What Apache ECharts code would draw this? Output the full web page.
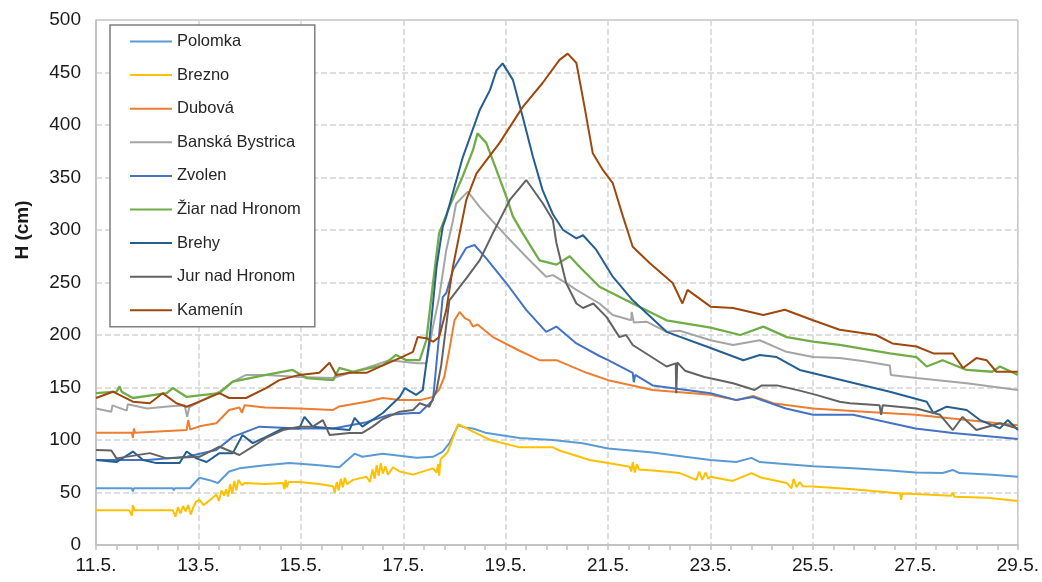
<!DOCTYPE html>
<html>
<head>
<meta charset="utf-8">
<script src="https://cdn.jsdelivr.net/npm/echarts@6/dist/echarts.min.js"></script>
<style>
html,body{margin:0;padding:0;background:#fff;}
#c{width:1042px;height:582px;}
</style>
</head>
<body>
<div id="c"></div>
<script>
// x = day of May, y = water level H (cm)
const xTicks = [11, 13, 15, 17, 19, 21, 23, 25, 27, 29];
const seriesNames = ['Polomka', 'Brezno', 'Dubová', 'Banská Bystrica', 'Zvolen', 'Žiar nad Hronom', 'Brehy', 'Jur nad Hronom', 'Kamenín'];

const polomka = [[11.0,54],[11.7,54],[11.72,51],[11.74,54],[12.5,54],[12.52,52],[12.54,54],[12.83,54],[13.02,64],[13.2,62],[13.38,59],[13.6,70],[13.8,73],[14.3,76],[14.78,78],[15.36,76],[15.75,74],[16.05,87],[16.2,84],[16.6,87],[17.26,83],[17.58,84],[17.77,89],[17.9,97],[18.07,114],[18.2,112],[18.36,111],[18.6,107],[19.27,102],[19.92,100],[20.5,97],[21.0,92],[21.87,88],[22.5,84],[23.0,81],[23.5,79],[23.8,83],[23.96,79],[24.5,77],[25.0,75],[25.78,73],[26.5,71],[27.0,69],[27.53,68.5],[27.73,71.5],[27.86,68.5],[28.5,67],[29.0,65]];

const brezno = [[11.0,33],[11.65,33],[11.7,28],[11.72,38],[11.75,33],[12.5,33],[12.55,27],[12.6,36],[12.65,30],[12.7,37],[12.75,32],[12.8,38],[12.85,29],[12.9,36],[12.95,41],[13.02,43],[13.1,38],[13.28,45],[13.35,48],[13.4,42],[13.45,52],[13.5,47],[13.54,53],[13.58,46],[13.62,58],[13.66,49],[13.7,61],[13.74,52],[13.78,62],[13.85,57],[13.9,59],[14.3,58],[14.65,59],[14.68,53],[14.7,62],[14.73,55],[14.76,60],[14.97,60],[15.36,58],[15.63,56],[15.66,50],[15.7,60],[15.74,52],[15.78,63],[15.82,55],[15.86,64],[15.9,58],[16.02,62],[16.28,65],[16.35,60],[16.4,72],[16.44,63],[16.48,76],[16.52,66],[16.56,78],[16.6,68],[16.65,75],[16.7,67],[16.8,74],[16.93,70],[17.19,67],[17.58,73],[17.65,69],[17.68,77],[17.7,66],[17.73,82],[17.8,85],[17.87,89],[18.07,115],[18.2,112],[18.36,108],[18.7,100],[19.27,93],[19.92,93],[20.05,90],[20.64,81],[21.0,78],[21.42,74.6],[21.45,70],[21.48,79],[21.52,69],[21.56,77],[21.6,72],[21.87,71],[22.4,68.5],[22.72,62],[22.78,70],[22.84,62],[22.9,69],[22.96,63],[23.0,65],[23.43,61],[23.8,68.5],[24.0,64],[24.49,59],[24.58,54],[24.62,63],[24.68,55],[24.74,60],[24.8,56],[25.0,55.6],[25.78,53],[26.5,50],[26.7,49],[26.72,43],[26.74,49],[27.0,48.6],[27.7,47],[27.73,50],[27.76,46],[28.4,45],[29.0,42]];

const dubova = [[11.0,107],[11.7,107],[11.72,102],[11.74,111],[11.76,107],[12.77,109.5],[12.8,119],[12.84,110],[13.02,113],[13.35,116],[13.6,128.6],[13.8,131],[13.85,126],[13.9,133],[14.3,131],[14.97,130],[15.63,128.6],[15.75,132],[16.28,136.5],[16.6,140],[16.93,138],[17.32,138],[17.58,141],[17.7,148],[17.8,160],[17.9,186],[18.0,214],[18.1,222],[18.2,216],[18.29,214],[18.36,208],[18.45,210],[18.75,198],[19.27,185],[19.66,176],[19.99,176],[20.58,164],[21.0,157],[21.87,147.6],[23.0,143],[23.51,138],[23.83,142],[24.22,135],[25.0,130],[26.0,127],[27.0,124],[28.0,119],[29.0,114]];

const banskaBystrica = [[11.0,130],[11.3,127],[11.32,133],[11.6,128],[11.62,134],[12.0,130],[12.4,132],[12.73,133],[12.78,122],[12.82,131],[13.02,136.5],[13.41,146],[13.67,155.6],[13.93,162],[14.32,162],[14.97,160],[15.63,159],[16.02,165],[16.28,168.6],[16.73,176],[17.26,173],[17.45,173],[17.58,208],[17.7,236],[17.84,281],[17.97,309],[18.03,325],[18.26,336.5],[18.49,322],[18.75,308],[19.14,287.6],[19.47,271],[19.79,255.5],[19.92,257],[20.18,249.5],[20.38,243],[20.83,230],[21.09,219],[21.45,214],[21.46,222],[21.5,212],[21.75,212.7],[22.14,203],[22.4,204],[23.0,195],[23.44,190.5],[23.96,195],[24.48,184],[25.0,179],[25.52,178],[26.0,175],[26.5,171],[26.52,162],[27.02,159],[28.0,154],[29.0,147.6]];

const zvolen = [[11.0,81],[12.0,81],[12.77,84],[13.35,90.5],[13.67,103],[14.19,112.7],[14.97,111],[15.63,111],[16.28,117],[16.73,124],[17.19,125.7],[17.32,125.7],[17.58,138],[17.7,200],[17.77,236],[17.84,240],[17.97,262],[18.23,283],[18.39,285.7],[18.62,273],[19.01,249.5],[19.4,224],[19.79,203],[19.99,208],[20.38,192],[20.83,180],[21.0,176],[21.48,164],[21.5,155],[21.53,162],[21.87,152],[23.0,144.6],[23.5,138],[23.83,141],[24.47,130],[25.0,124],[25.78,124],[27.0,111],[27.73,106.7],[29.0,101]];

const ziar = [[11.0,144.6],[11.4,146],[11.46,151],[11.5,146],[11.72,140],[12.38,144.6],[12.5,149.5],[12.77,141],[13.41,144.6],[13.67,155.6],[14.32,162],[14.84,166.7],[15.11,159],[15.63,157],[15.75,168.6],[16.02,165],[16.6,171],[16.86,181],[17.06,176],[17.32,176],[17.45,195],[17.58,249.5],[17.7,297],[17.9,322],[18.16,351],[18.36,376],[18.45,392],[18.62,383],[18.82,357],[19.01,332],[19.14,313],[19.33,297],[19.66,271],[19.99,267],[20.25,275],[20.44,265],[20.83,246],[21.48,230],[22.14,214],[23.0,207],[23.58,200],[24.03,208],[24.49,198],[25.0,193.6],[25.52,190.5],[26.5,182.5],[27.02,179],[27.22,170],[27.53,176],[28.0,166.7],[28.5,165],[28.65,170],[29.0,162]];

const brehy = [[11.0,81],[11.4,79],[11.72,89],[11.92,81],[12.18,78],[12.63,78],[12.77,89],[12.96,82.5],[13.16,79],[13.41,87.5],[13.67,87.5],[13.86,104.8],[14.06,97],[14.32,103],[14.65,111],[14.97,111],[15.07,122],[15.23,112.7],[15.63,111],[15.95,109.5],[16.05,121],[16.2,112.7],[16.6,125.7],[16.93,141],[17.03,149.5],[17.25,143],[17.38,147.6],[17.51,195],[17.65,265],[17.77,303],[17.84,313],[18.16,369],[18.49,414],[18.69,433],[18.82,452],[18.94,458.7],[19.14,443],[19.33,408],[19.53,370],[19.72,338],[19.92,315],[20.12,300],[20.38,292],[20.51,295],[20.77,281],[21.09,255.5],[21.48,233],[22.14,203],[23.0,187.6],[23.64,176],[23.96,181],[24.29,179],[24.74,166.7],[25.39,159],[26.5,146],[27.22,136.5],[27.35,125.7],[27.61,131.7],[28.0,128.6],[28.26,119],[28.65,111],[28.8,119],[29.0,109.5]];

const jur = [[11.0,90.5],[11.3,90],[11.4,82.5],[12.05,87.5],[12.38,82.5],[13.02,84],[13.41,93.6],[13.8,85.7],[14.06,93.6],[14.32,102],[14.65,109.5],[14.97,112.7],[15.23,112.7],[15.43,119],[15.56,104.8],[15.95,106.7],[16.2,106.7],[16.4,112.7],[16.6,120],[16.93,127],[17.19,128.6],[17.32,135],[17.51,131.7],[17.65,147.6],[17.74,171],[17.9,233],[18.23,254],[18.49,271],[18.75,297],[19.08,328.6],[19.4,347.6],[19.72,325.7],[19.92,309.5],[19.99,287.6],[20.18,249.5],[20.38,230],[20.51,225.7],[20.71,230],[20.97,217],[21.22,198],[21.35,200],[21.48,190.5],[22.14,170],[22.32,173],[22.33,144.6],[22.35,174],[22.5,166],[22.88,160],[23.44,154],[23.86,147.6],[24.0,152],[24.3,152],[24.74,147],[25.06,143],[25.52,136.5],[25.72,135],[26.3,133],[26.33,124],[26.36,133],[27.02,130],[27.48,124],[27.73,109.5],[27.92,122],[28.19,109.5],[28.65,116],[29.0,111]];

const kamenin = [[11.0,140],[11.33,146],[11.72,136.5],[12.05,135],[12.3,144.6],[12.57,135],[12.77,131.7],[13.02,136.5],[13.41,144.6],[13.6,140],[13.93,140],[14.32,149.5],[14.58,157],[14.97,162],[15.36,164],[15.56,173.6],[15.69,162],[15.95,164],[16.28,164],[16.6,171],[16.93,178],[17.19,184],[17.28,198],[17.45,197],[17.58,193.6],[17.7,198],[17.84,224],[17.97,265],[18.1,297],[18.23,328.6],[18.43,354],[18.88,383],[19.33,417],[19.72,440],[20.05,462],[20.21,468],[20.38,459],[20.54,417],[20.7,373],[20.9,357],[21.09,344.7],[21.29,312.7],[21.48,284],[21.81,268.6],[22.26,249.5],[22.45,230],[22.55,243],[23.0,227],[23.44,225.7],[24.03,219],[24.45,224],[25.0,214],[25.52,205],[26.23,200],[26.55,192],[27.02,189],[27.35,182.5],[27.73,182.5],[27.93,168.6],[28.19,178],[28.39,176],[28.58,165],[29.0,165]];

const seriesData = [polomka, brezno, dubova, banskaBystrica, zvolen, ziar, brehy, jur, kamenin];
const colors = ['#5B9BD5', '#FFC000', '#ED7D31', '#A5A5A5', '#4472C4', '#70AD47', '#255E91', '#636363', '#9E480E'];

const FONT = '"Liberation Sans", Arial, sans-serif';
const chart = echarts.init(document.getElementById('c'), null, {renderer: 'canvas'});
const gridLine = {show: true, lineStyle: {color: '#d4d4d4', width: 1.5, type: [6, 3]}};

chart.setOption({
  animation: false,
  backgroundColor: '#fff',
  color: colors,
  grid: {left: 96, right: 24, top: 20, bottom: 37, show: true, borderColor: '#a6a6a6', borderWidth: 1},
  legend: {
    orient: 'vertical', left: 110, top: 25,
    data: seriesNames,
    icon: 'rect', itemWidth: 42, itemHeight: 2, itemGap: 16.6,
    textStyle: {fontFamily: FONT, fontSize: 16.5, color: '#262626', lineHeight: 16},
    borderColor: '#7f7f7f', borderWidth: 1.5, padding: [8, 14, 8, 20],
    backgroundColor: '#fff'
  },
  graphic: [{
    type: 'text', x: 23, y: 230, rotation: Math.PI / 2,
    style: {text: 'H (cm)', font: 'bold 19px ' + FONT, fill: '#1a1a1a', align: 'center', verticalAlign: 'middle'}
  }],
  xAxis: {
    type: 'value', min: xTicks[0], max: xTicks[xTicks.length - 1], interval: 2,
    axisLine: {show: true, lineStyle: {color: '#bfbfbf', width: 1.5}},
    axisTick: {show: true, length: 5, lineStyle: {color: '#bfbfbf', width: 1.5}},
    minorTick: {show: true, splitNumber: 5, length: 5, lineStyle: {color: '#bfbfbf', width: 1.5}},
    splitLine: gridLine,
    axisLabel: {fontFamily: FONT, fontSize: 19, color: '#1a1a1a', margin: 11, formatter: v => v + '.5.'}
  },
  yAxis: {
    type: 'value', min: 0, max: 500, interval: 50,
    axisLine: {show: true, lineStyle: {color: '#bfbfbf', width: 1.5}},
    axisTick: {show: false},
    splitLine: gridLine,
    axisLabel: {fontFamily: FONT, fontSize: 19, color: '#1a1a1a', margin: 15}
  },
  series: seriesNames.map((n, i) => ({
    name: n, type: 'line', data: seriesData[i], showSymbol: false, symbol: 'none',
    lineStyle: {width: i === 5 ? 2.3 : 2, color: colors[i]},
    itemStyle: {color: colors[i]},
    z: 2 + i
  }))
});
</script>
</body>
</html>
